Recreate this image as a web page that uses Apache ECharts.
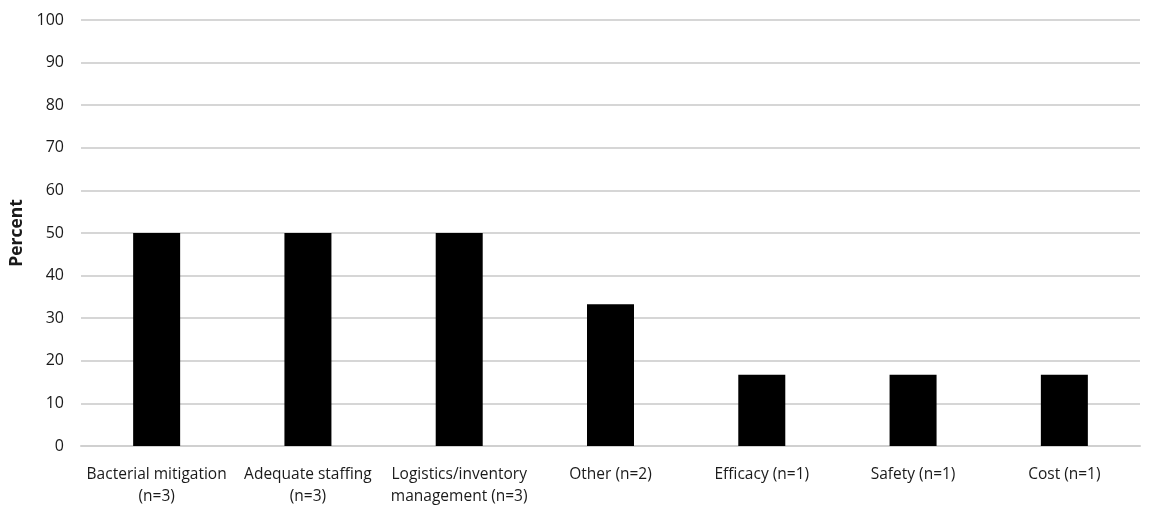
<!DOCTYPE html>
<html>
<head>
<meta charset="utf-8">
<script src="https://cdn.jsdelivr.net/npm/echarts@6/dist/echarts.min.js"></script>
<style>html,body{margin:0;padding:0;background:#fff;}#c{width:1153px;height:516px;}</style>
</head>
<body>
<div id="c"></div>
<script>
const categories = ['Bacterial mitigation\n(n=3)', 'Adequate staffing\n(n=3)', 'Logistics/inventory\nmanagement (n=3)', 'Other (n=2)', 'Efficacy (n=1)', 'Safety (n=1)', 'Cost (n=1)'];
const percentValues = [50, 50, 50, 33.3, 16.7, 16.7, 16.7];
const yTicks = { min: 0, max: 100, interval: 10 };

const chart = echarts.init(document.getElementById('c'));
chart.setOption({
  animation: false,
  backgroundColor: '#fff',
  grid: { left: 81, right: 13, top: 20, bottom: 70, containLabel: false, outerBoundsMode: 'none' },
  xAxis: {
    type: 'category',
    data: categories,
    axisLine: { show: true, lineStyle: { color: '#d0d0d0', width: 2 } },
    axisTick: { show: false },
    axisLabel: { color: '#1a1a1a', fontFamily: 'Open Sans', fontSize: 15.5, lineHeight: 22, margin: 18, interval: 0 }
  },
  yAxis: {
    type: 'value',
    min: yTicks.min, max: yTicks.max, interval: yTicks.interval,
    name: 'Percent',
    nameLocation: 'middle',
    nameGap: 50,
    nameRotate: 90,
    nameTextStyle: { fontFamily: 'Open Sans', fontWeight: 'bold', fontSize: 17.5, color: '#1a1a1a' },
    axisLine: { show: false },
    axisTick: { show: false },
    axisLabel: { color: '#1a1a1a', fontFamily: 'Open Sans', fontSize: 16, margin: 17 },
    splitLine: { lineStyle: { color: '#d6d6d6', width: 2 } }
  },
  series: [{
    type: 'bar',
    data: percentValues,
    barWidth: 47,
    itemStyle: { color: '#000' }
  }]
});
</script>
</body>
</html>
